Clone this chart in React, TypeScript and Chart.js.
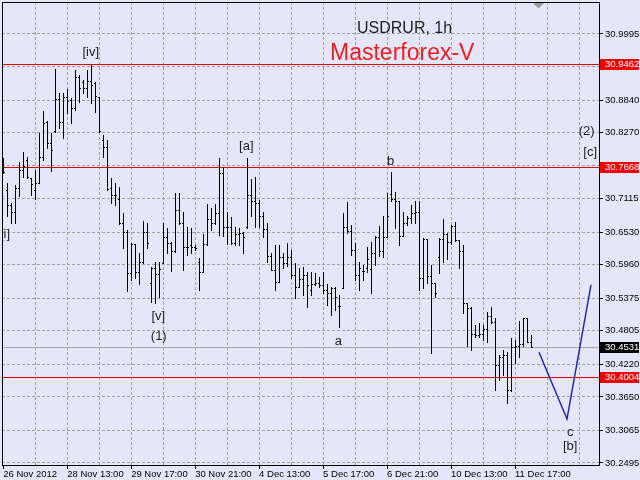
import React, { useEffect, useRef } from "react";
import { Chart, registerables } from "chart.js";

Chart.register(...registerables);

// ---- OHLC data (USDRUR, 1h), one entry per bar ----
const barOpen = [
  30.7687, 30.7268, 30.7006, 30.6883, 30.7303, 30.7617, 30.7792, 30.7477, 30.7268, 30.7390,
  30.7845, 30.8456, 30.8089, 30.8299, 30.8858, 30.8456, 30.8893, 30.8841, 30.8701, 30.9243,
  30.9156, 30.9051, 30.9173, 30.9138, 30.8893, 30.8142, 30.8019, 30.7303, 30.7180, 30.7111,
  30.6691, 30.6534, 30.5817, 30.6324, 30.5834, 30.6009, 30.6534, 30.5642, 30.5904, 30.5799,
  30.5992, 30.6446, 30.6341, 30.6201, 30.6918, 30.6691, 30.6271, 30.6306, 30.6271, 30.6009,
  30.5834, 30.6324, 30.6761, 30.6691, 30.6866, 30.7565, 30.6621, 30.6621, 30.6341, 30.6499,
  30.6516, 30.6621, 30.7180, 30.7076, 30.7041, 30.6813, 30.6586, 30.6114, 30.5869, 30.5660,
  30.6096, 30.5992, 30.6096, 30.5782, 30.5572, 30.5712, 30.5782, 30.5520, 30.5625, 30.5642,
  30.5607, 30.5520, 30.5467, 30.5555, 30.5240, 30.5555, 30.6621, 30.6551, 30.6219, 30.5782,
  30.5852, 30.5904, 30.5887, 30.6166, 30.6446, 30.6201, 30.6446, 30.7198, 30.7111, 30.7076,
  30.6464, 30.6691, 30.6778, 30.6866, 30.6883, 30.5729, 30.6411, 30.5764, 30.5642, 30.6096,
  30.6411, 30.6499, 30.6359, 30.6638, 30.6394, 30.6201, 30.5292, 30.5205, 30.4751, 30.4733,
  30.4751, 30.4838, 30.5065, 30.4960, 30.4208, 30.4348, 30.4383, 30.3771, 30.4523, 30.4541,
  30.4576, 30.5030, 30.4611,
];
const barHigh = [
  30.7827, 30.7390, 30.7041, 30.7355, 30.7757, 30.7932, 30.7845, 30.7477, 30.7617, 30.8264,
  30.8649, 30.8474, 30.8264, 30.9383, 30.8963, 30.8963, 30.9033, 30.8876, 30.9365, 30.9278,
  30.9191, 30.9365, 30.9462, 30.9156, 30.8893, 30.8229, 30.8142, 30.7477, 30.7390, 30.7320,
  30.6866, 30.6568, 30.6341, 30.6324, 30.6166, 30.6726, 30.6691, 30.5922, 30.6009, 30.6009,
  30.6691, 30.6603, 30.6359, 30.7215, 30.7215, 30.6883, 30.6621, 30.6603, 30.6306, 30.6079,
  30.6499, 30.7023, 30.6953, 30.7023, 30.7827, 30.7670, 30.6883, 30.6796, 30.6621, 30.6603,
  30.6534, 30.7827, 30.7460, 30.7495, 30.7093, 30.6883, 30.6691, 30.6166, 30.6306, 30.6306,
  30.6166, 30.6341, 30.6219, 30.5992, 30.5904, 30.5922, 30.5834, 30.5834, 30.5817, 30.5747,
  30.5834, 30.5625, 30.5572, 30.5572, 30.5432, 30.6866, 30.7058, 30.6656, 30.6341, 30.6009,
  30.5957, 30.6271, 30.6359, 30.6464, 30.6638, 30.6813, 30.7215, 30.7582, 30.7233, 30.7076,
  30.6883, 30.6813, 30.7006, 30.7076, 30.7076, 30.6429, 30.6411, 30.5957, 30.5642, 30.6429,
  30.6761, 30.6516, 30.6656, 30.6708, 30.6394, 30.6306, 30.5292, 30.5223, 30.4908, 30.4943,
  30.4908, 30.5135, 30.5223, 30.5030, 30.4383, 30.4471, 30.4436, 30.4681, 30.4646, 30.4978,
  30.5030, 30.5030, 30.4733,
];
const barLow = [
  30.7565, 30.6813, 30.6691, 30.6691, 30.7163, 30.7495, 30.7477, 30.7180, 30.7111, 30.7390,
  30.7792, 30.8002, 30.7600, 30.8282, 30.8352, 30.8177, 30.8614, 30.8439, 30.8666, 30.8806,
  30.8963, 30.8893, 30.8789, 30.8631, 30.8282, 30.7845, 30.7268, 30.7041, 30.7006, 30.6673,
  30.6254, 30.5502, 30.5695, 30.5729, 30.5625, 30.5992, 30.6254, 30.5310, 30.5292, 30.5397,
  30.5992, 30.6166, 30.5852, 30.6184, 30.6673, 30.5869, 30.6131, 30.6166, 30.6219, 30.5520,
  30.5834, 30.6306, 30.6568, 30.6673, 30.6481, 30.6464, 30.6324, 30.6324, 30.6306, 30.6306,
  30.6166, 30.6603, 30.6813, 30.6621, 30.6621, 30.6446, 30.6009, 30.5869, 30.5520, 30.5660,
  30.5904, 30.5939, 30.5729, 30.5380, 30.5572, 30.5432, 30.5223, 30.5432, 30.5607, 30.5572,
  30.5467, 30.5258, 30.5083, 30.5170, 30.4873, 30.5555, 30.6516, 30.6131, 30.5695, 30.5520,
  30.5695, 30.5834, 30.5467, 30.5957, 30.6114, 30.6096, 30.6446, 30.7076, 30.6603, 30.6306,
  30.6464, 30.6656, 30.6691, 30.6691, 30.5520, 30.5555, 30.5642, 30.4418, 30.5397, 30.5817,
  30.6009, 30.6062, 30.6324, 30.6376, 30.5904, 30.5118, 30.4541, 30.4471, 30.4698, 30.4698,
  30.4646, 30.4611, 30.4943, 30.3771, 30.3946, 30.4034, 30.3544, 30.3754, 30.4243, 30.4348,
  30.4541, 30.4611, 30.4525,
];
const barClose = [
  30.7582, 30.7006, 30.6883, 30.7303, 30.7617, 30.7687, 30.7495, 30.7373, 30.7390, 30.7845,
  30.8439, 30.8089, 30.7967, 30.8858, 30.8456, 30.8893, 30.8823, 30.8701, 30.9243, 30.9051,
  30.9051, 30.9173, 30.9103, 30.8911, 30.8299, 30.8019, 30.7285, 30.7180, 30.7180, 30.6691,
  30.6534, 30.5817, 30.6324, 30.5834, 30.6009, 30.6534, 30.6341, 30.5904, 30.5799, 30.5887,
  30.6446, 30.6341, 30.6201, 30.6918, 30.6691, 30.6271, 30.6271, 30.6271, 30.6254, 30.5834,
  30.6324, 30.6761, 30.6691, 30.6866, 30.7565, 30.6621, 30.6621, 30.6341, 30.6499, 30.6516,
  30.6446, 30.7180, 30.7076, 30.7041, 30.6813, 30.6586, 30.6114, 30.5869, 30.5660, 30.6096,
  30.5992, 30.6096, 30.5782, 30.5572, 30.5712, 30.5782, 30.5607, 30.5625, 30.5642, 30.5607,
  30.5520, 30.5467, 30.5555, 30.5397, 30.5240, 30.6621, 30.6551, 30.6219, 30.5782, 30.5904,
  30.5852, 30.6062, 30.6166, 30.6446, 30.6201, 30.6446, 30.6813, 30.7111, 30.7076, 30.6464,
  30.6691, 30.6778, 30.6866, 30.6883, 30.5729, 30.6411, 30.5764, 30.5642, 30.5467, 30.6411,
  30.6499, 30.6359, 30.6638, 30.6394, 30.6201, 30.5292, 30.5205, 30.4751, 30.4733, 30.4751,
  30.4838, 30.5065, 30.4960, 30.4208, 30.4348, 30.4383, 30.3771, 30.4523, 30.4541, 30.4576,
  30.5030, 30.4611, 30.4531,
];

// ---- axes ----
const yTickValues = [
  30.9995, 30.9425, 30.884, 30.827, 30.77, 30.7115, 30.653, 30.596, 30.5375, 30.4805, 30.422,
  30.365, 30.3065, 30.2495,
];
const hiddenYTicks = [30.9425, 30.77];
const xTickBars = [0, 16, 32, 48, 64, 80, 96, 112, 128];
const xTickLabels = [
  "26 Nov 2012", "28 Nov 13:00", "29 Nov 17:00", "30 Nov 21:00", "4 Dec 13:00",
  "5 Dec 17:00", "6 Dec 21:00", "10 Dec 13:00", "11 Dec 17:00",
];
const gridStepBars = 8;
const lastGridBar = 144;

// ---- levels ----
const redLevels = [30.9462, 30.7668, 30.4004];
const bidPrice = 30.4531;

// ---- projected path ----
const projBars = [134, 141, 147];
const projPrices = [30.4431, 30.3265, 30.5607];

// ---- wave labels ----
const waveTexts = ["[i]", "[iv]", "[v]", "(1)", "[a]", "a", "b", "c", "[b]", "(2)", "[c]"];
const waveBars = [0.45, 21.9, 38.8, 38.9, 60.8, 83.8, 96.9, 141.8, 141.8, 145.9, 146.8];
const wavePrices = [30.649, 30.968, 30.5065, 30.4704, 30.8037, 30.4628, 30.7775, 30.3038, 30.2793, 30.8287, 30.792];

const FONT = '"Liberation Sans", Arial, sans-serif';
const BG = "#e6e6fa";
const GRID = "#a0a0a0";

export default function App() {
  const ref = useRef<HTMLCanvasElement>(null);

  useEffect(() => {
    const canvas = ref.current;
    if (!canvas) return;

    const ohlc = barOpen.map((o, i) => ({ x: i, o, h: barHigh[i], l: barLow[i], c: barClose[i] }));
    const proj = projBars.map((b, i) => ({ x: b, y: projPrices[i] }));

    const mt4Plugin = {
      id: "mt4",
      beforeDraw(chart: any) {
        const ctx = chart.ctx;
        ctx.save();
        ctx.fillStyle = BG;
        ctx.fillRect(0, 0, chart.width, chart.height);
        ctx.restore();
      },
      beforeDatasetsDraw(chart: any) {
        const { ctx, chartArea: a } = chart;
        const y = chart.scales.y;
        ctx.save();
        ctx.lineWidth = 1;
        const hline = (v: number, color: string) => {
          const py = Math.round(y.getPixelForValue(v)) + 0.5;
          ctx.strokeStyle = color;
          ctx.beginPath();
          ctx.moveTo(a.left, py);
          ctx.lineTo(a.right, py);
          ctx.stroke();
        };
        hline(bidPrice, "#a8a8a8");
        redLevels.forEach((v) => hline(v, "#e00000"));
        ctx.restore();
      },
      afterDatasetsDraw(chart: any) {
        const { ctx, chartArea: a } = chart;
        const x = chart.scales.x;
        const y = chart.scales.y;
        ctx.save();
        ctx.beginPath();
        ctx.rect(a.left, a.top, a.right - a.left, a.bottom - a.top);
        ctx.clip();
        ctx.fillStyle = "#000";
        ohlc.forEach((b) => {
          const px = Math.round(x.getPixelForValue(b.x));
          const ph = Math.round(y.getPixelForValue(b.h));
          const pl = Math.round(y.getPixelForValue(b.l));
          const po = Math.round(y.getPixelForValue(b.o));
          const pc = Math.round(y.getPixelForValue(b.c));
          ctx.fillRect(px, ph, 1, pl - ph + 1);
          ctx.fillRect(px - 1, po, 1, 1);
          ctx.fillRect(px + 1, pc, 1, 1);
        });
        // wave labels
        ctx.font = `13px ${FONT}`;
        ctx.fillStyle = "#1e1e1e";
        ctx.textAlign = "center";
        ctx.textBaseline = "middle";
        waveTexts.forEach((t, i) => {
          ctx.fillText(t, x.getPixelForValue(waveBars[i]), y.getPixelForValue(wavePrices[i]));
        });
        ctx.restore();
      },
      afterDraw(chart: any) {
        const { ctx, chartArea: a } = chart;
        const y = chart.scales.y;
        ctx.save();
        // frame
        ctx.strokeStyle = "#000";
        ctx.lineWidth = 1;
        ctx.strokeRect(a.left + 0.5, a.top + 0.5, a.right - a.left, a.bottom - a.top);
        // price boxes
        const box = (v: number, bg: string) => {
          const py = Math.round(y.getPixelForValue(v));
          ctx.fillStyle = bg;
          ctx.fillRect(a.right + 1, py - 5, 39, 11);
          ctx.fillStyle = "#fff";
          ctx.font = `9.5px ${FONT}`;
          ctx.textAlign = "left";
          ctx.textBaseline = "middle";
          ctx.fillText(v.toFixed(4), a.right + 6, py + 0.5);
        };
        redLevels.forEach((v) => box(v, "#f00000"));
        box(bidPrice, "#000");
        // shift marker
        ctx.fillStyle = "#9a9a9a";
        ctx.beginPath();
        ctx.moveTo(533, 3);
        ctx.lineTo(544, 3);
        ctx.lineTo(538.5, 8.5);
        ctx.closePath();
        ctx.fill();
        // titles
        ctx.textAlign = "left";
        ctx.textBaseline = "alphabetic";
        ctx.fillStyle = "#1e1e1e";
        ctx.font = `16px ${FONT}`;
        ctx.fillText("USDRUR, 1h", 357, 33);
        ctx.fillStyle = "#ee1c1c";
        ctx.font = `23px ${FONT}`;
        ctx.fillText("Masterforex-V", 330, 60);
        ctx.restore();
      },
    };

    const chart = new Chart(canvas, {
      type: "line",
      data: {
        datasets: [
          {
            data: ohlc as any,
            parsing: { xAxisKey: "x", yAxisKey: "c" },
            showLine: false,
            pointRadius: 0,
            borderWidth: 0,
          } as any,
          {
            data: proj as any,
            borderColor: "#2020b0",
            borderWidth: 1.4,
            pointRadius: 0,
            tension: 0,
            fill: false,
          } as any,
        ],
      },
      options: {
        responsive: false,
        animation: false,
        events: [],
        layout: { padding: { left: 2, top: 2, right: 0, bottom: 0 } },
        plugins: { legend: { display: false }, tooltip: { enabled: false }, title: { display: false } },
        scales: {
          x: {
            type: "linear",
            min: -0.3,
            max: 149,
            afterBuildTicks: (s: any) => {
              const t: any[] = [];
              for (let v = 0; v <= lastGridBar; v += gridStepBars) t.push({ value: v });
              s.ticks = t;
            },
            afterFit: (s: any) => {
              s.height = 15;
              s.paddingLeft = 0;
              s.paddingRight = 0;
            },
            ticks: {
              autoSkip: false,
              maxRotation: 0,
              minRotation: 0,
              align: "start",
              padding: 0,
              color: "#000",
              font: { family: FONT, size: 9.5 },
              callback: (v: any) => {
                const i = xTickBars.indexOf(Number(v));
                return i >= 0 ? xTickLabels[i] : "";
              },
            },
            grid: {
              color: (c: any) => (c.tick && c.tick.value === 0 ? "rgba(0,0,0,0)" : GRID),
              lineWidth: 1,
              drawTicks: true,
              tickLength: 4,
              tickWidth: 1,
              tickBorderDash: [],
              tickColor: (c: any) => (c.tick && xTickBars.includes(c.tick.value) ? "#000" : "rgba(0,0,0,0)"),
            },
            border: { display: false, dash: [3, 2] },
          } as any,
          y: {
            type: "linear",
            position: "right",
            min: 30.246,
            max: 31.0554,
            afterBuildTicks: (s: any) => {
              s.ticks = yTickValues.map((v) => ({ value: v }));
            },
            afterFit: (s: any) => {
              s.width = 41;
              s.paddingTop = 0;
              s.paddingBottom = 0;
            },
            ticks: {
              autoSkip: false,
              padding: 2,
              color: "#000",
              font: { family: FONT, size: 9.5 },
              callback: (v: any) => (hiddenYTicks.includes(Number(v)) ? "" : Number(v).toFixed(4)),
            },
            grid: {
              color: GRID,
              lineWidth: 1,
              drawTicks: true,
              tickLength: 4,
              tickWidth: 1,
              tickBorderDash: [],
              tickColor: "#000",
            },
            border: { display: false, dash: [3, 2] },
          } as any,
        },
      },
      plugins: [mt4Plugin as any],
    });

    return () => chart.destroy();
  }, []);

  return (
    <div style={{ position: "absolute", left: 0, top: 0, width: 640, height: 480, overflow: "hidden" }}>
      <canvas ref={ref} width={640} height={480} style={{ display: "block" }} />
    </div>
  );
}
